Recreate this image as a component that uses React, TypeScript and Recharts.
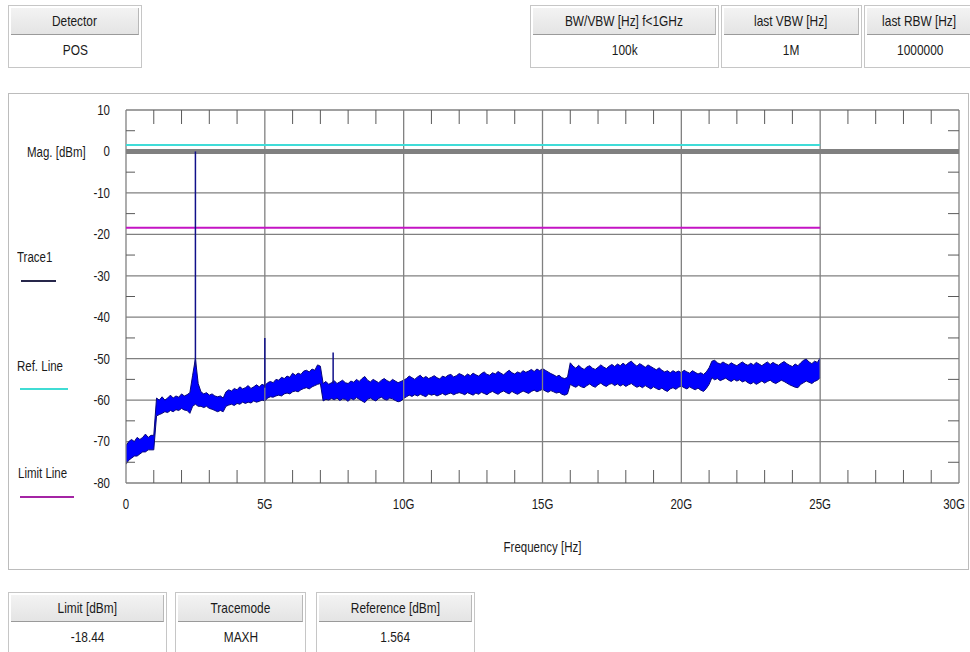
import React from 'react';
import { ComposedChart, Area, XAxis, YAxis, CartesianGrid, ReferenceLine } from 'recharts';

const FONT = '"Liberation Sans", Arial, sans-serif';
const NARROW = 0.82;

// sweep definition (GHz)
const SWEEP_START = 0;
const SWEEP_STEP = 0.1;

// trace envelope, upper edge (dBm), one value per sweep step 0..25 GHz
const TRACE_HI = [
  -71, -70, -69.5, -70, -69, -69.5, -69, -68.2, -69, -68.5, -68.5,
  -59.5, -60, -59.2, -60, -59.5, -58.8, -59.5, -59, -59.3, -58.5, -59, -58.7, -58.2,
  -54, -50, -56,
  -58, -58.5, -58.2, -58.8, -58.5, -59, -59.2, -59, -59.5,
  -58, -57.5, -57.8, -57.2, -57.5, -56.8, -57.3, -57, -56.5, -57.2, -56.8, -56.3, -56.8, -56.2, -56.5,
  -55.8, -55.5, -55.8, -55, -55.2, -54.5, -54.8, -54.2, -54.5, -53.5, -54, -53.5, -53.8, -53, -52.8, -53.2, -52.5, -52.8, -51.5, -51.8,
  -56, -55.5, -56.2, -55.8, -55.3, -56, -55.6, -55.2, -55.8, -56, -55.4, -55.7, -55, -55.5, -54.8, -54.3, -55.2, -55.6, -55, -55.4, -55.8, -55.2, -54.8, -55.3, -55.6, -55, -55.4, -55.8, -55.5, -55.2,
  -54.8, -54.2, -54.6, -55, -54.4, -54, -54.7, -54.3, -54.8, -54.5, -54.1, -54.6, -54.9, -54.2, -54.5, -54, -53.8, -54.4, -54.1, -53.6,
  -53.9, -54.3, -53.7, -54.1, -53.5, -53.9, -54.2, -53.6, -53.2, -53.8, -54, -53.4, -53.7, -53.1, -53.5, -53.9, -53.3, -52.8, -53.4, -53.7,
  -53.2, -53.5, -52.9, -53.3, -53, -52.6, -53.1, -52.5, -52.9, -52.4, -52.8, -53.2, -53.6, -53.9, -54.3, -54, -54.6, -54.8,
  -54.5,
  -51, -51.8, -52.3, -51.6, -52.2, -52.6, -52, -51.7, -52.3, -52.6, -52.1, -51.5, -52, -52.4, -51.8, -51.4, -51.9, -51.3, -51.7, -51.1,
  -51.6, -51, -50.6, -51.3, -51.8, -51.2, -51.6, -52.1, -51.5, -51.9, -52.3, -52.7, -52.2, -52.8, -53.2, -52.9, -53.4, -52.9, -53.3, -53,
  -53.4, -52.8, -53.2, -53.5, -52.9, -53.3, -53.7, -53.4, -53.8, -53.2, -52.2,
  -50.6, -50.4, -51, -51.3, -50.8, -51.2, -51.5, -51, -51.4, -51.7, -51.2, -50.8, -51.3, -51.6, -51.1, -51.5, -50.9, -51.3, -51.7, -51.2,
  -50.8, -51.4, -50.9, -51.3, -51.6, -51.1, -50.7, -51.2, -51.6, -51.9, -51.3, -51.7, -51, -50.4, -50.1, -50.8, -51.2, -50.6, -50.9, -49.8,
];

// trace envelope, lower edge (dBm)
const TRACE_LO = [
  -75.5, -74.5, -74, -73.5, -73.5, -73, -72.5, -72.5, -72, -72, -72,
  -63.8, -63.5, -63.2, -62.8, -63, -62.5, -62.8, -62.3, -62.5, -62, -62.4, -62.5, -63.2,
  -61.5, -61, -61.5,
  -61.5, -61.8, -61.5, -62, -62.2, -62.5, -62.8, -62.5, -62.8,
  -61.5, -61.2, -61, -61.3, -60.8, -61, -60.5, -60.8, -60.5, -60.7, -60.2, -60.5, -60.3, -60, -60.2,
  -59.5, -59.2, -59.3, -59, -58.8, -59, -58.5, -58.3, -58.5, -58, -57.8, -58, -57.5, -57.2, -57, -57.3, -56.8, -56.5, -56.2, -56,
  -60.2, -59.8, -60, -59.6, -59.9, -59.5, -60.1, -59.7, -59.8, -60.3, -59.6, -59.9, -59.4, -59.8, -60.2, -60.6, -59.8, -59.5, -59.9, -60.2, -59.6, -59.3, -59.8, -60, -59.5, -59.7, -60.1, -60.4, -60.2, -59.6,
  -59.2, -58.8, -59.1, -58.7, -59, -58.6, -58.9, -59.2, -58.5, -58.8, -58.6, -59, -58.7, -58.4, -58.8, -58.5, -58.3, -58.7, -58.4, -58.2,
  -58.4, -58.7, -58.2, -58.5, -58.8, -58.3, -58.6, -58.1, -58.4, -58.7, -58.2, -57.9, -58.3, -58.6, -58.1, -57.8, -58.2, -58.5, -57.9, -58.3,
  -58.6, -58.2, -57.8, -58.1, -58.4, -57.9, -57.6, -58, -57.7, -57.4, -57.8, -58.1, -57.7, -58, -58.3, -58.1, -58.6, -58.8,
  -58.5,
  -56.2, -56.6, -56.9, -56.4, -56.8, -57, -56.5, -56.1, -56.6, -56.9, -56.3, -55.9, -56.4, -56.7, -56.2, -56, -56.5, -56.1, -56.6, -56.2,
  -56.7, -56.3, -56, -56.5, -56.9, -56.6, -57, -56.5, -56.9, -57.3, -56.8, -57.2, -57.5, -57.1, -57.6, -57.9, -57.3, -57, -57.4, -56.9,
  -56.6, -57, -57.3, -56.8, -57.2, -57.5, -57.1, -57.6, -57.9, -57.2, -56.2,
  -54.6, -55.1, -54.8, -55.3, -55, -54.7, -55.2, -55.5, -55, -55.4, -55.1, -55.6, -55.3, -55.8, -56.1, -55.7, -56.2, -55.8, -55.4, -55.9,
  -55.5, -55.2, -55.7, -56, -55.6, -55.2, -55.5, -55.9, -56.3, -56.6, -56.9, -57, -56.2, -55.8, -55.4, -55.7, -56, -55.5, -55.2, -54.6,
];

// narrow spurs (GHz, foot dBm, peak dBm)
const SPUR_FREQ = [2.5, 5.0, 7.46];
const SPUR_FOOT = [-52, -57, -56];
const SPUR_PEAK = [0, -45, -48.5];

const REF_LEVEL = 1.564;
const LIMIT_LEVEL = -18.44;
const SPAN_END = 25;
const ZERO_LEVEL = 0;

const X_MAJOR = [0, 5, 10, 15, 20, 25, 30];
const X_MINOR = [1, 2, 3, 4, 6, 7, 8, 9, 11, 12, 13, 14, 16, 17, 18, 19, 21, 22, 23, 24, 26, 27, 28, 29];
const Y_TICKS = [-80, -70, -60, -50, -40, -30, -20, -10, 0, 10];
const Y_MINOR = [-75, -65, -55, -45, -35, -25, -15, -5, 5];

const TOP_HEADS = ['BW/VBW [Hz] f<1GHz', 'last VBW [Hz]', 'last RBW [Hz]'];
const TOP_VALUES = ['100k', '1M', '1000000'];
const BOTTOM_HEADS = ['Limit [dBm]', 'Tracemode', 'Reference [dBm]'];
const BOTTOM_VALUES = ['-18.44', 'MAXH', '1.564'];

const traceRows = TRACE_HI.map((hi, i) => ({
  f: Math.round((SWEEP_START + i * SWEEP_STEP) * 100) / 100,
  band: [TRACE_LO[i], hi],
}));

const fmtX = (v: number) => (v === 0 ? '0' : `${v}G`);

function NText({ children, size = 14, origin = 'center' }: { children: React.ReactNode; size?: number; origin?: string }) {
  return (
    <span
      style={{
        display: 'inline-block', transform: `scaleX(${NARROW})`, transformOrigin: origin, fontFamily: FONT,
        fontSize: size, whiteSpace: 'nowrap',
      }}
    >
      {children}
    </span>
  );
}

function InfoCell({ x, y, w, h, head, value }: { x: number; y: number; w: number; h: number; head: string; value: string }) {
  return (
    <div
      style={{
        position: 'absolute', left: x, top: y, width: w, height: h, boxSizing: 'border-box',
        border: '1px solid #c6c6c6', background: '#fff', color: '#1a1a1a',
      }}
    >
      <div
        style={{
          margin: '2px 2px 0 2px', height: 27, boxSizing: 'border-box', background: 'linear-gradient(#f3f3f3,#e4e4e4)',
          borderBottom: '1px solid #9a9a9a', borderRight: '1px solid #b8b8b8', textAlign: 'center', lineHeight: '26px',
          whiteSpace: 'nowrap',
        }}
      >
        <NText size={14.5}>{head}</NText>
      </div>
      <div style={{ textAlign: 'center', lineHeight: '30px', whiteSpace: 'nowrap' }}>
        <NText size={14.5}>{value}</NText>
      </div>
    </div>
  );
}

const legendText: React.CSSProperties = {
  position: 'absolute', color: '#1a1a1a', lineHeight: '16px', whiteSpace: 'nowrap',
};

function XTick(props: any) {
  const { x, y, payload } = props;
  const v = payload.value as number;
  const shift = v === 30 ? -5 : 0;
  return (
    <text
      transform={`translate(${x + shift},${y + 21}) scale(${NARROW},1)`}
      textAnchor="middle" dominantBaseline="central" fontFamily={FONT} fontSize={14} fill="#1a1a1a"
    >
      {fmtX(v)}
    </text>
  );
}

function YTick(props: any) {
  const { x, y, payload } = props;
  return (
    <text
      transform={`translate(${x - 16},${y}) scale(${NARROW},1)`}
      textAnchor="end" dominantBaseline="central" fontFamily={FONT} fontSize={14} fill="#1a1a1a"
    >
      {payload.value}
    </text>
  );
}

const noTick = () => <g />;
const GRID = '#808080';
const TICK_COLOR = '#5a5a5a';

export default function App() {
  return (
    <div style={{ position: 'absolute', left: 0, top: 0, width: 970, height: 652, background: '#fff', overflow: 'hidden' }}>
      <InfoCell x={8} y={5} w={134} h={63} head="Detector" value="POS" />
      <InfoCell x={530} y={5} w={189} h={63} head={TOP_HEADS[0]} value={TOP_VALUES[0]} />
      <InfoCell x={721} y={5} w={141} h={63} head={TOP_HEADS[1]} value={TOP_VALUES[1]} />
      <InfoCell x={864} y={5} w={112} h={63} head={TOP_HEADS[2]} value={TOP_VALUES[2]} />

      <div style={{ position: 'absolute', left: 8, top: 93, width: 961, height: 477, boxSizing: 'border-box', border: '1px solid #bcbcbc' }} />

      <InfoCell x={8} y={592} w={159} h={70} head={BOTTOM_HEADS[0]} value={BOTTOM_VALUES[0]} />
      <InfoCell x={175} y={592} w={131} h={70} head={BOTTOM_HEADS[1]} value={BOTTOM_VALUES[1]} />
      <InfoCell x={316} y={592} w={159} h={70} head={BOTTOM_HEADS[2]} value={BOTTOM_VALUES[2]} />

      <div style={{ ...legendText, left: 27, top: 144 }}><NText origin="left">Mag. [dBm]</NText></div>
      <div style={{ ...legendText, left: 17, top: 249 }}><NText origin="left">Trace1</NText></div>
      <div style={{ position: 'absolute', left: 21, top: 280, width: 35, height: 2, background: '#26264a' }} />
      <div style={{ ...legendText, left: 17, top: 358 }}><NText origin="left">Ref. Line</NText></div>
      <div style={{ position: 'absolute', left: 20, top: 388, width: 48, height: 2, background: '#40dcd4' }} />
      <div style={{ ...legendText, left: 18, top: 465 }}><NText origin="left">Limit Line</NText></div>
      <div style={{ position: 'absolute', left: 20, top: 496, width: 54, height: 2, background: '#a424a4' }} />
      <div style={{ ...legendText, left: 0, width: 1084, textAlign: 'center', top: 539 }}><NText>Frequency [Hz]</NText></div>

      <div style={{ position: 'absolute', left: 0, top: 0 }}>
        <ComposedChart width={970} height={652} data={traceRows} margin={{ top: 110, right: 11, bottom: 129, left: 96 }}>
          <CartesianGrid stroke={GRID} strokeWidth={1.3} vertical={false} />
          <XAxis
            dataKey="f" type="number" domain={[0, 30]} ticks={X_MAJOR} interval={0}
            tickLine={false} axisLine={false} tickSize={0} tickMargin={0} height={40} tick={XTick} allowDataOverflow
          />
          <YAxis
            type="number" domain={[-80, 10]} ticks={Y_TICKS} interval={0} tickLine={false} axisLine={false}
            tickSize={0} tickMargin={0} width={30} tick={YTick} allowDataOverflow
          />
          <XAxis xAxisId="topMinor" dataKey="f" orientation="top" type="number" domain={[0, 30]} ticks={X_MINOR} interval={0}
            mirror tick={noTick} axisLine={false} tickSize={14} height={1} tickLine={{ stroke: TICK_COLOR }} allowDataOverflow />
          <XAxis xAxisId="botMinor" dataKey="f" orientation="bottom" type="number" domain={[0, 30]} ticks={X_MINOR} interval={0}
            mirror tick={noTick} axisLine={false} tickSize={13} height={1} tickLine={{ stroke: TICK_COLOR }} allowDataOverflow />
          <YAxis yAxisId="leftMinor" orientation="left" type="number" domain={[-80, 10]} ticks={Y_MINOR} interval={0}
            mirror tick={noTick} axisLine={false} tickSize={9} width={1} tickLine={{ stroke: TICK_COLOR }} allowDataOverflow />
          <YAxis yAxisId="rightMinor" orientation="right" type="number" domain={[-80, 10]} ticks={Y_MINOR} interval={0}
            mirror tick={noTick} axisLine={false} tickSize={11} width={1} tickLine={{ stroke: TICK_COLOR }} allowDataOverflow />

          {X_MAJOR.map((v) => (
            <ReferenceLine key={`vx${v}`} x={v} stroke={GRID} strokeWidth={1.3} />
          ))}

          <ReferenceLine segment={[{ x: 0, y: ZERO_LEVEL }, { x: 30, y: ZERO_LEVEL }]} stroke="#808080" strokeWidth={5} />
          <ReferenceLine segment={[{ x: 0, y: REF_LEVEL }, { x: SPAN_END, y: REF_LEVEL }]} stroke="#40dcd8" strokeWidth={2} />
          <ReferenceLine segment={[{ x: 0, y: LIMIT_LEVEL }, { x: SPAN_END, y: LIMIT_LEVEL }]} stroke="#c414c4" strokeWidth={2} />

          <Area
            dataKey="band" type="linear" fill="#0000ff" fillOpacity={1} stroke="#06067a" strokeWidth={1}
            isAnimationActive={false} dot={false} activeDot={false}
          />
          {SPUR_FREQ.map((f, i) => (
            <ReferenceLine
              key={`spur${i}`}
              segment={[{ x: f, y: SPUR_FOOT[i] }, { x: f, y: SPUR_PEAK[i] }]}
              stroke="#10108a" strokeWidth={1.5}
            />
          ))}
        </ComposedChart>
      </div>
    </div>
  );
}
